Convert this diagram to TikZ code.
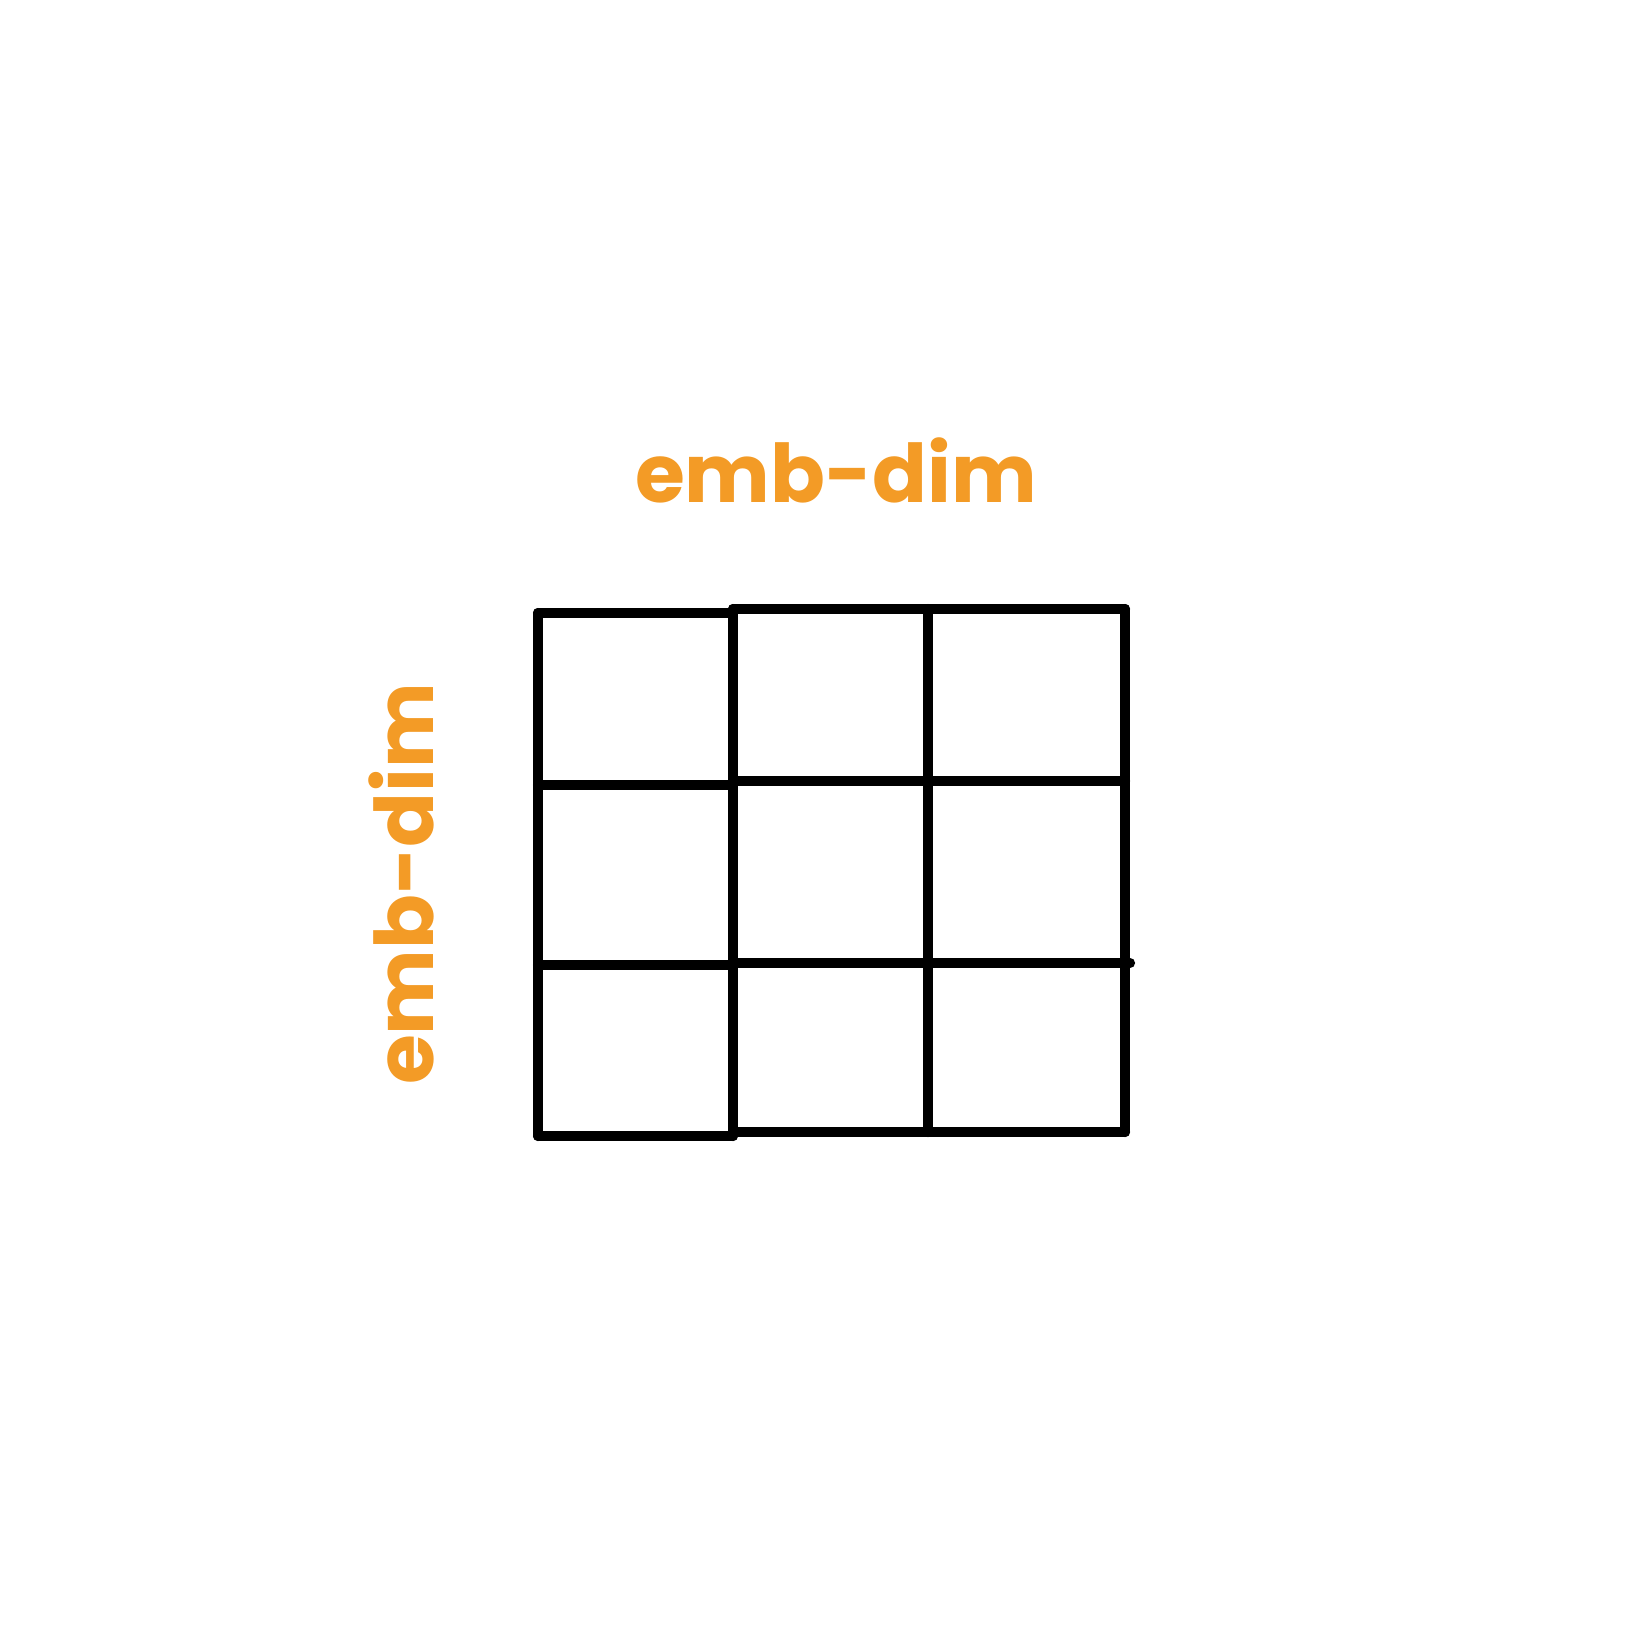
\documentclass[tikz,border=0pt]{standalone}
\usepackage{fontspec}
\setmainfont{Poppins}
\definecolor{dimorange}{HTML}{F39B26}
\tikzset{
  gridline/.style={line width=2.9pt, line cap=round, line join=round},
  dimlabel/.style={text=dimorange, font=\fontsize{23}{28}\selectfont\bfseries, inner sep=0pt, anchor=base}
}
\begin{document}
\begin{tikzpicture}[x=0.01cm, y=-0.01cm]
\useasboundingbox (0,0) rectangle (1631,1640);
\node[dimlabel] (top-dim) at (836,502) {emb-dim};
\node[dimlabel, rotate=90] (left-dim) at (433,884) {emb-dim};

% outer frame
\draw[gridline] (538,613) -- (733,613);
\draw[gridline] (733,609) -- (1125,609);
\draw[gridline] (538,1136) -- (733,1136);
\draw[gridline] (733,1132) -- (1125,1132);
% columns
\draw[gridline] (538,613) -- (538,1136);
\draw[gridline] (733,609) -- (733,1136);
\draw[gridline] (928,609) -- (928,1132);
\draw[gridline] (1125,609) -- (1125,1132);
% rows
\draw[gridline] (538,785) -- (733,785);
\draw[gridline] (733,781) -- (1125,781);
\draw[gridline] (538,965) -- (733,965);
\draw[gridline] (733,963) -- (1130,963);
\end{tikzpicture}
\end{document}
